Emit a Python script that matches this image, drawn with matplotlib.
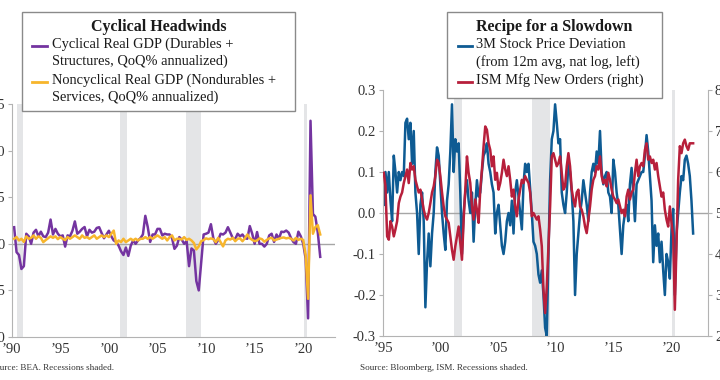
import numpy as np
import matplotlib.pyplot as plt
from matplotlib.patches import Rectangle
from matplotlib.lines import Line2D
from matplotlib.ticker import FormatStrFormatter

plt.rcParams['font.family'] = ['Liberation Serif', 'DejaVu Serif']

PURPLE = '#7434a0'
YELLOW = '#f7b52c'
BLUE = '#0e5b93'
RED = '#b71f3b'
GRAY = '#b3b3b3'
SHADE = '#e4e5e7'

# ---- left chart: quarterly real GDP growth, 1990Q1 - 2021Q3 (QoQ% annualized)
cyclical = [8.9, -4.5, -6, -13.5, -12, 5.4, 4, 0, 6, 7.5,
            4, 6.5, 4, 3.6, 6, 13, 5, 8, 5.4, 4,
            4.5, -1.5, 4.5, 4, 7, 12, 5.4, 6.5, 8, 9,
            4, 7.5, 6, 6.5, 8.5, 8.9, 5.8, 3, 5, 7,
            4, 1.8, 1, -1, -4, -6, -2, -6.5, -1, 1.8,
            0, 1.8, 3, 5, 15, 9, 1, 5, 5, 8,
            8, 4.5, 5.4, 5, 5, 3,
            -2.7, -1, 3.6, 2.2, 0, 1.5, -12, -2.5, -3.6, -20,
            -25, -10, 5, 5.4, 6, 10.5, 3, 0, 2, 5.4,
            5, 6, 8.9, 6, 3, 2.5, 5.4, 4, 5, 3,
            2.7, 9.5, 5.4, 0, 6.3, 0, 0, -1.5, 0, 4.5,
            5.4, 1, 5, 2.7, 6.5, 6.3, 7.1, 6, 3, 0.9,
            0, 6.5, 4, 0, -8, -40, 66, 16, 14.5, 6,
            -7]
noncyclical = [2.7, 3.6, 1.8, 2.7, 1.0, 4.0, 2.7, 3.2, 4.5, 2.7,
               4.0, 3.2, 0.9, 2.0, 3.0, 4.0, 3.2, 4.0, 2.5, 3.6,
               2.7, 2.0, 3.6, 2.7, 3.6, 4.5, 3.6, 2.7, 4.5, 3.2,
               3.6, 2.7, 3.6, 4.5, 2.7, 3.6, 4.5, 3.6, 4.5, 3.6,
               5.4, 7.1, 0.0, 1.8, 0.9, 2.7, 0.9, 1.8, 2.7, 1.8,
               2.7, 1.8, 2.7, 2.7, 3.6, 2.7, 3.6, 2.7, 3.6, 4.5,
               3.6, 2.7, 3.6, 1.8, 3.6, 4.5,
               1.8, 2.7, 2.7, 2.3, 3.6, 2.1, 2.7, 1.8, 0.4, -3.0,
               -1.4, 1.4, 2.0, 2.9, 2.5, 2.9, 2.5, 0.9, 3.2, 0.9,
               -1.4, 1.8, 2.7, 2.3, 3.2, 1.4, 2.7, 2.9, 1.4, 3.0,
               5.0, 3.0, 2.1, 1.4, 1.8, 2.9, 2.5, 1.1, 2.1, 2.9,
               3.2, 1.8, 2.3, 2.7, 3.2, 3.4, 2.9, 3.2, 2.7, 1.8,
               3.2, 2.1, 2.7, 2.1, -6, -29.5, 26, 5.4, 9, 10,
               5]
gdp_dates = 1990 + (np.arange(len(cyclical)) + 1) / 4.0
recessions_left = [(1990.55, 1991.2), (2001.17, 2001.88), (2007.92, 2009.46), (2020.08, 2020.4)]

# ---- right chart: stock price deviation and ISM new orders, 1995 - 2021
stock_dev = [0.02, 0.10, 0.05, 0.10, 0.03, -0.02, 0.14, 0.10, 0.05, 0.10,
             0.08, 0.10, 0.09, 0.22, 0.23, 0.18, 0.22, 0.12, 0.20, 0.05,
             0.00, -0.10, 0.02, 0.05, -0.02, -0.23, -0.12, -0.05, -0.13, -0.05,
             0.00, 0.10, 0.16, 0.14, 0.07, 0.00, -0.05, -0.09, 0.03, 0.07,
             0.15, 0.265, 0.10, 0.18, 0.15, 0.17, 0.05, -0.10, 0.00, 0.05,
             0.08, 0.03, 0.00, 0.05, -0.07, 0.02, 0.08, 0.04, 0.05, 0.10,
             0.14, 0.15, 0.17, 0.12, 0.10, 0.07, 0.05, -0.05, 0.00, 0.02,
             -0.03, -0.08, -0.10, -0.07, -0.02, 0.00, -0.03, 0.03, -0.05, 0.05,
             0.08, 0.04, 0.00, -0.04, 0.07, 0.12, 0.10, 0.12, 0.06, 0.00,
             -0.07, -0.08, -0.10, -0.15, -0.17, -0.14, -0.20, -0.28, -0.30, -0.10,
             0.08, 0.18, 0.20, 0.265, 0.22, 0.17, 0.18, 0.05, 0.02, 0.00,
             0.05, 0.12, 0.10, 0.05, -0.02, -0.20, -0.10, -0.05, 0.00, 0.03,
             0.08, 0.05, 0.02, -0.02, 0.05, 0.10, 0.12, 0.10, 0.15, 0.12,
             0.20, 0.10, 0.07, 0.09, 0.10, 0.05, 0.04, 0.00, 0.13, 0.10,
             0.05, 0.02, -0.04, -0.10, -0.03, 0.00, 0.02, -0.02, 0.07, 0.11,
             0.05, -0.02, 0.07, 0.08, 0.09, 0.10, 0.10, 0.14, 0.19, 0.15,
             0.09, 0.03, -0.12, -0.03, -0.08, -0.05, -0.12, -0.07, -0.14, -0.20,
             -0.10, -0.12, -0.16, -0.04, 0.01, -0.20, -0.05, 0.00, 0.05, 0.09,
             0.08, 0.13, 0.14, 0.12, 0.09, 0.03, -0.05]
ism_orders = [59.8, 56.5, 44.3, 43.5, 48, 46.7, 44.3, 46, 48, 52.4,
              54, 55, 57.3, 59, 60.6, 57.3, 62.2, 60.6, 61.4, 58.1,
              56.5, 55, 55.7, 53.3, 50.8, 49.2, 48.4, 50, 52.4, 55,
              56.5, 59, 63, 62.2, 59, 55, 51.6, 49.2, 48.4, 47.6,
              44.3, 41, 38.6, 41.9, 44.3, 46.7, 42.7, 38.6, 48.4, 55.7,
              63.8, 59.8, 57.3, 51.6, 48.4, 53.3, 50.8, 47.6, 55.7, 60.6,
              66.3, 71.1, 70.3, 67, 65.4, 61.4, 63.8, 58.1, 59.8, 55.7,
              57.3, 59.8, 63, 60.6, 59, 61.4, 58.1, 54, 55.7, 51.6,
              49.2, 53.3, 55.7, 58.1, 57.3, 59, 58.1, 57.3, 55, 49.2,
              50, 49.2, 48.4, 49.2, 46, 41.9, 31.3, 25.6, 32, 41.9,
              51.6, 63.8, 64.6, 63, 61.4, 62.2, 63.8, 59.8, 55.7, 56.5,
              61.4, 64.6, 61.4, 55.7, 53.3, 51.6, 55, 55.7, 51.6, 50.8,
              49.2, 46.7, 45.1, 48.4, 51.6, 55.7, 58.1, 59, 61.4, 60.6,
              63.8, 59, 57.3, 58.1, 56.5, 59.8, 58.1, 55.7, 54, 53.3,
              52.4, 53.3, 51.6, 50, 50.8, 49.2, 54, 55.7, 53.3, 55,
              55.7, 59.8, 63, 59, 61.4, 62.2, 61.4, 65.4, 67, 63,
              63.8, 62.2, 63, 60.6, 62.2, 59, 56.5, 54, 55, 50.8,
              48.4, 46.7, 51.6, 47.6, 44.3, 26.4, 41.9, 58.1, 66.3, 64.6,
              67, 67.9, 66.3, 65.4, 67, 67, 67]
mkt_dates = np.linspace(1995.07, 2021.91, len(stock_dev))
recessions_right = [(2001.17, 2001.88), (2007.92, 2009.46), (2020.08, 2020.3)]

year_ticks_left = [1990, 1995, 2000, 2005, 2010, 2015, 2020]
year_ticks_right = [1995, 2000, 2005, 2010, 2015, 2020]
year_labels = {y: '\u2019' + str(y)[2:] for y in year_ticks_left}

W, H = 720, 380
fig = plt.figure(figsize=(7.2, 3.8), dpi=100)


def fbox(x0, y0, x1, y1):
    return [x0 / W, 1 - y1 / H, (x1 - x0) / W, (y1 - y0) / H]


def style(ax, right=False):
    for s in ['top', 'right', 'left', 'bottom']:
        ax.spines[s].set_visible(False)
    ax.spines['bottom'].set_visible(True)
    ax.spines['bottom'].set_color(GRAY)
    side = 'right' if right else 'left'
    ax.spines[side].set_visible(True)
    ax.spines[side].set_color(GRAY)
    ax.tick_params(axis='y', length=3, color=GRAY, labelsize=10.5, labelcolor='#333333', pad=2)
    ax.tick_params(axis='x', length=0, labelsize=10.5, labelcolor='#333333', pad=4)


# left chart
ax1 = fig.add_axes(fbox(11.7, 104, 335, 337))
for a, b in recessions_left:
    ax1.axvspan(a, b, color=SHADE, lw=0, zorder=0)
ax1.axhline(0, color='#a6a6a6', lw=1, zorder=1)
ax1.plot(gdp_dates, cyclical, color=PURPLE, lw=1.8, zorder=2)
ax1.plot(gdp_dates, noncyclical, color=YELLOW, lw=1.8, zorder=3)
ax1.set_xlim(1990.18, 2023.27)
ax1.set_ylim(-50, 75)
ax1.set_yticks(range(-50, 76, 25))
ax1.set_xticks(year_ticks_left)
ax1.set_xticklabels([year_labels[y] for y in year_ticks_left])
style(ax1)

# right chart
ax2 = fig.add_axes(fbox(383, 90, 708, 336))
ax3 = ax2.twinx()
for a, b in recessions_right:
    ax2.axvspan(a, b, color=SHADE, lw=0, zorder=0)
ax2.axhline(0, color='#a6a6a6', lw=1, zorder=1)
ax2.plot(mkt_dates, stock_dev, color=BLUE, lw=1.8, zorder=2)
ax3.plot(mkt_dates, ism_orders, color=RED, lw=1.8)
ax2.set_xlim(1995.0, 2023.2)
ax2.set_ylim(-0.3, 0.3)
ax2.set_yticks(np.arange(-0.3, 0.31, 0.1))
ax2.yaxis.set_major_formatter(FormatStrFormatter('%.1f'))
ax3.set_ylim(20, 80)
ax3.set_yticks(range(20, 81, 10))
ax2.set_xticks(year_ticks_right)
ax2.set_xticklabels([year_labels[y] for y in year_ticks_right])
style(ax2)
style(ax3, right=True)
ax3.spines['bottom'].set_visible(False)


# legend boxes
def legend_box(x0, y0, x1, y1, title, entries, text_x, line_x0, line_x1):
    fig.patches.append(Rectangle((x0 / W, 1 - y1 / H), (x1 - x0) / W, (y1 - y0) / H,
                                 transform=fig.transFigure, facecolor='white',
                                 edgecolor='#8a8a8a', lw=1, zorder=5))
    fig.text((x0 + x1) / 2 / W, 1 - 27 / H, title, ha='center', va='center',
             fontsize=11.5, fontweight='bold', color='#1a1a1a', zorder=6)
    for lines, color, ytop in entries:
        fig.lines.append(Line2D([line_x0 / W, line_x1 / W], [1 - (ytop + 2) / H] * 2,
                                transform=fig.transFigure, color=color, lw=2, zorder=6))
        for i, t in enumerate(lines):
            fig.text(text_x / W, 1 - (ytop + i * 17.7) / H, t, ha='left', va='center',
                     fontsize=10.4, color='#1a1a1a', zorder=6)


legend_box(22, 12, 295, 111, 'Cyclical Headwinds',
           [(['Cyclical Real GDP (Durables +', 'Structures, QoQ% annualized)'], PURPLE, 44),
            (['Noncyclical Real GDP (Nondurables +', 'Services, QoQ% annualized)'], YELLOW, 80)],
           52, 32, 47)
legend_box(447, 12, 662, 98, 'Recipe for a Slowdown',
           [(['3M Stock Price Deviation', '(from 12m avg, nat log, left)'], BLUE, 44),
            (['ISM Mfg New Orders (right)'], RED, 80)],
           476, 458, 472)

fig.text(-10 / W, 1 - 368 / H, 'Source: BEA. Recessions shaded.', fontsize=6.6,
         va='center', color='#333333')
fig.text(360 / W, 1 - 368 / H, 'Source: Bloomberg, ISM. Recessions shaded.', fontsize=6.6,
         va='center', color='#333333')

fig.savefig('out.png', dpi=100)
